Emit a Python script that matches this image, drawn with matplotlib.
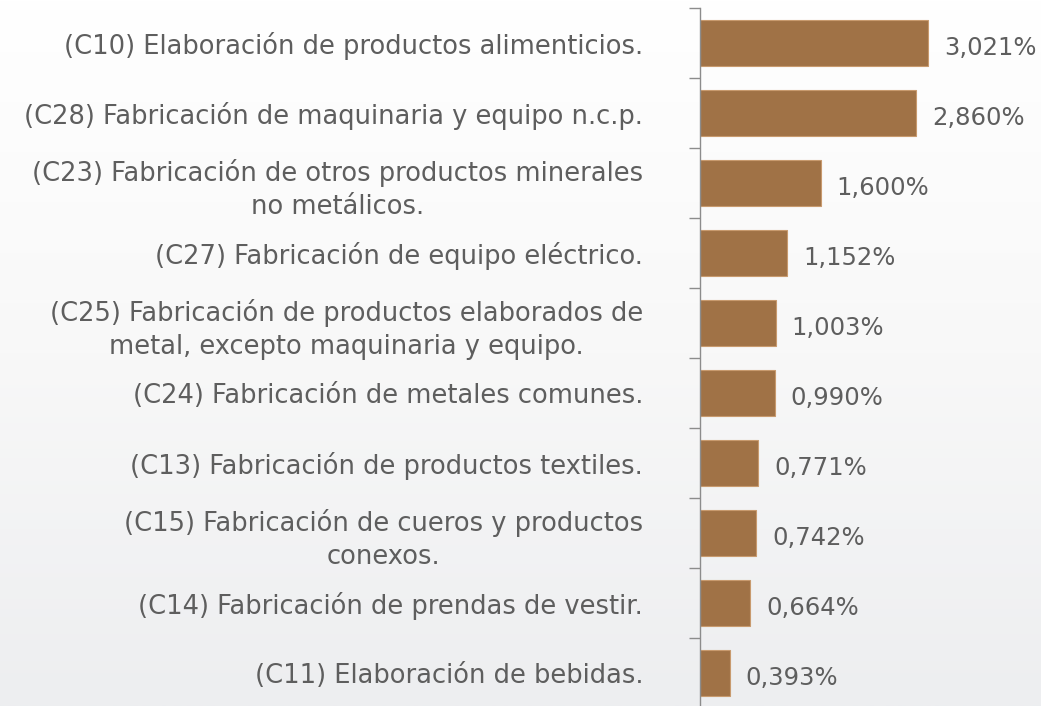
import matplotlib
matplotlib.use("Agg")
import matplotlib.pyplot as plt
from matplotlib.colors import LinearSegmentedColormap
import numpy as np

# datos
categorias = [
    "(C10) Elaboración de productos alimenticios.",
    "(C28) Fabricación de maquinaria y equipo n.c.p.",
    "(C23) Fabricación de otros productos minerales\nno metálicos.",
    "(C27) Fabricación de equipo eléctrico.",
    "(C25) Fabricación de productos elaborados de\nmetal, excepto maquinaria y equipo.",
    "(C24) Fabricación de metales comunes.",
    "(C13) Fabricación de productos textiles.",
    "(C15) Fabricación de cueros y productos\nconexos.",
    "(C14) Fabricación de prendas de vestir.",
    "(C11) Elaboración de bebidas.",
]
valores = [3.021, 2.860, 1.600, 1.152, 1.003, 0.990, 0.771, 0.742, 0.664, 0.393]
etiquetas = ["3,021%", "2,860%", "1,600%", "1,152%", "1,003%",
             "0,990%", "0,771%", "0,742%", "0,664%", "0,393%"]

plt.rcParams['font.family'] = ['DejaVu Sans']
gris = '#5E5E5E'

fig = plt.figure(figsize=(10.41, 7.06), dpi=100)

# fondo degradado
bg = fig.add_axes([0, 0, 1, 1], zorder=-10)
grad = np.linspace(0, 1, 256).reshape(-1, 1)
cm = LinearSegmentedColormap.from_list('fondo', ['#FFFFFF', '#F8F8F8', '#EDEEF0'])
bg.imshow(grad, aspect='auto', cmap=cm, extent=[0, 1, 0, 1])
bg.axis('off')

# eje principal: x de 700 a 1041 px, y de 8 a 708 px
W, H = 1041, 706
ax = fig.add_axes([700 / W, (H - 708) / H, 341 / W, 700 / H])
ax.patch.set_alpha(0)

n = len(valores)
y = np.arange(n)
ax.barh(y, valores, height=0.66, color='#A07246', edgecolor='#C89A6E', linewidth=0.8)
ax.set_ylim(n - 0.5, -0.5)
ax.set_xlim(0, 341 / 75.5)

for yi, v, t in zip(y, valores, etiquetas):
    ax.text(v + 0.21, yi + 0.07, t, va='center', ha='left', fontsize=17.5, color=gris)

ax.set_yticks(y)
ax.set_yticklabels(categorias, fontsize=18.5, color=gris, linespacing=1.33)
for lbl in ax.get_yticklabels():
    lbl.set_multialignment('center')
ax.set_yticks(np.arange(n + 1) - 0.5, minor=True)
ax.tick_params(axis='y', which='major', length=0, pad=41)
ax.tick_params(axis='y', which='minor', length=8, color='#8C8C8C', width=1)

ax.set_xticks([])
for s in ['top', 'right', 'bottom']:
    ax.spines[s].set_visible(False)
ax.spines['left'].set_color('#8C8C8C')
ax.spines['left'].set_linewidth(1)

fig.savefig('out.png', dpi=100)
